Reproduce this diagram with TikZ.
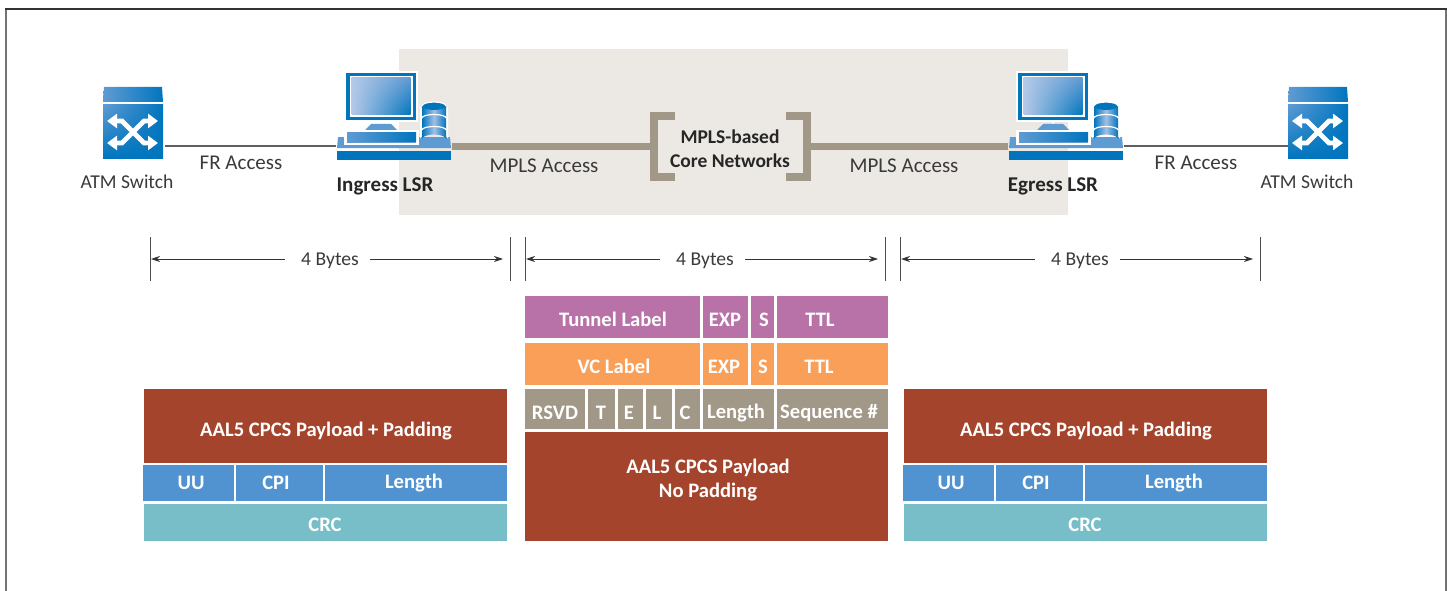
\documentclass[tikz,border=0pt]{standalone}
\usepackage{fontspec}
\setmainfont{Carlito}
\usetikzlibrary{arrows.meta,shadings}
\definecolor{corefill}{HTML}{ECE9E4}
\definecolor{mplsline}{HTML}{A29888}
\definecolor{frline}{HTML}{5F5F5F}
\definecolor{inktext}{HTML}{3A3A3A}
\definecolor{iconblue}{HTML}{0075BE}
\definecolor{iconlight}{HTML}{B4C9E8}
\definecolor{iconmid}{HTML}{5F9BD3}
\definecolor{fpurple}{HTML}{B872A8}
\definecolor{forange}{HTML}{F99F58}
\definecolor{fgray}{HTML}{A29888}
\definecolor{fbrown}{HTML}{A4442C}
\definecolor{fblue}{HTML}{5193D0}
\definecolor{fteal}{HTML}{78BEC8}
\tikzset{
  lbl/.style={font=\fontsize{21}{24}\selectfont,text=inktext,inner sep=0pt,align=center,yshift=-0.8pt},
  atmlbl/.style={font=\fontsize{19.6}{24}\selectfont,text=inktext,inner sep=0pt,align=center,yshift=-0.3pt},
  lblb/.style={font=\fontsize{21}{24}\selectfont\bfseries,text=black!85,inner sep=0pt,align=center,yshift=-0.8pt},
  corelbl/.style={font=\fontsize{19.5}{24}\selectfont\bfseries,text=black!85,inner sep=0pt,align=center},
  fldtext/.style={font=\fontsize{20.6}{24}\selectfont\bfseries,text=white,inner sep=0pt,align=center,yshift=-0.8pt},
  iconbox/.style={inner sep=0pt,minimum width=#1,minimum height=10pt},
  fraccess/.style={draw=frline,line width=1.6pt},
  mplsaccess/.style={draw=mplsline,line width=7pt},
  bracket/.style={draw=mplsline,line width=8pt,miter limit=10},
  dimarrow/.style={draw=black!80,line width=0.9pt,-{Stealth[length=9pt,width=6pt]}},
  dimtick/.style={draw=black!70,line width=0.9pt},
  whitearrow/.style={draw=white,line width=4.8pt,{Triangle[length=10pt,width=14pt]}-{Triangle[length=10pt,width=14pt]}}
}
% field: fill colour, x0, y0, x1, y1
\newcommand{\fieldrect}[5]{\fill[#1] (#2,#3) rectangle (#4,#5);}
\newcommand{\swicon}[1]{%
  \begin{scope}[shift={(#1,0)}]
    \shade[upper left=iconmid,upper right=iconblue,lower left=iconmid,lower right=iconblue] (104,87) -- (162,87) -- (163,102) -- (103,102) -- cycle;
    \shade[upper left=iconmid,upper right=iconblue,lower left=iconblue,lower right=iconblue] (103,105) rectangle (163,158);
    \draw[whitearrow] (107,121) -- (122,121) -- (144,143) -- (158,143);
    \draw[whitearrow] (107,143) -- (122,143) -- (144,121) -- (158,121);
  \end{scope}}
\newcommand{\pcicon}[1]{%
  \begin{scope}[shift={(#1,0)}]
    % base
    \fill[iconmid] (338,137) -- (450,137) -- (451,148) -- (337,148) -- cycle;
    \fill[iconblue] (337,151) rectangle (451,160);
    % monitor
    \fill[white] (344,71) rectangle (418,122);
    \fill[iconblue] (346,73) rectangle (416,120);
    \fill[white] (349.5,76) rectangle (412.5,117);
    \shade[upper left=iconlight,upper right=iconmid,lower left=iconlight,lower right=iconblue] (351.5,78) rectangle (410.5,115);
    % stand
    \fill[white] (380,120) rectangle (382,124);
    \fill[iconmid] (371,124) -- (391,124) -- (397,130) -- (365,130) -- cycle;
    % keyboard
    \fill[white] (344,130) rectangle (419,145);
    \shade[left color=iconmid,right color=iconblue] (347,132) rectangle (416,141);
    \fill[iconmid] (347,142) rectangle (416,143);
    % cylinder
    \fill[white] (420,106) arc[start angle=180,end angle=0,x radius=14,y radius=6] -- (448,139) arc[start angle=0,end angle=-180,x radius=14,y radius=6] -- cycle;
    \shade[left color=iconblue,right color=iconblue,middle color=iconlight!80!iconmid] (422,106) -- (446,106) -- (446,139) arc[start angle=0,end angle=-180,x radius=12,y radius=4.5] -- cycle;
    \fill[iconblue] (434,106) ellipse[x radius=12,y radius=4];
    \draw[white,line width=1.2pt] (422,118) arc[start angle=180,end angle=360,x radius=12,y radius=3.5];
    \draw[white,line width=1.2pt] (422,130) arc[start angle=180,end angle=360,x radius=12,y radius=3.5];
    \draw[white,line width=1.2pt] (422,106) arc[start angle=180,end angle=360,x radius=12,y radius=4];
  \end{scope}}
\begin{document}
\begin{tikzpicture}[x=1pt,y=-1pt]
\useasboundingbox (0,0) rectangle (1447,591);
% outer frame
\draw[draw=black!55,line width=1.3pt] (6,591) -- (6,9);
\draw[draw=black!55,line width=1.3pt] (1446,9) -- (1446,591);
\draw[draw=black!80,line width=1.3pt] (5.4,9) -- (1446.6,9);
% core network region
\fill[corefill] (399,49) rectangle (1068,215);

\coordinate (liney) at (0,146);
% icon anchors
\node[iconbox=62pt] (swL) at (134,122) {};
\node[iconbox=116pt] (pcL) at (394,122) {};
\node[iconbox=116pt] (pcR) at (1066,122) {};
\node[iconbox=62pt] (swR) at (1319,122) {};
% core brackets
\node[corelbl] (core) at (730,149) {MPLS-based\\Core Networks};
\coordinate (brL) at (654,146);
\coordinate (brR) at (807,146);
% connectors
\draw[fraccess] (swL.east |- liney) -- (pcL.west |- liney);
\draw[fraccess] (pcR.east |- liney) -- (swR.west |- liney);
\draw[mplsaccess] (pcL.east |- liney) -- (brL);
\draw[mplsaccess] (brR) -- (pcR.west |- liney);
\draw[bracket] (675,116) -- (654,116) -- (654,177) -- (675,177);
\draw[bracket] (786,116) -- (807,116) -- (807,177) -- (786,177);
% icons
\swicon{0}
\swicon{1185}
\pcicon{0}
\pcicon{672}
% network labels
\node[atmlbl] (atmL) at (127,181) {ATM Switch};
\node[lbl] (frL) at (241,162) {FR Access};
\node[lblb] (ingress) at (385,186) {Ingress LSR};
\node[lbl] (mplsL) at (544,165) {MPLS Access};
\node[lbl] (mplsR) at (904,165) {MPLS Access};
\node[lblb] (egress) at (1053,186) {Egress LSR};
\node[lbl] (frR) at (1196,162) {FR Access};
\node[atmlbl] (atmR) at (1307,181) {ATM Switch};
% dimension lines
\foreach \n/\xa/\xb/\xc in {a/150/330/510,b/525/705/885,c/900/1080/1260}{
  \coordinate (\n l) at (\xa,259);
  \coordinate (\n r) at (\xc,259);
  \coordinate (\n lt) at (\xa,237);
  \coordinate (\n lb) at (\xa,281);
  \coordinate (\n rt) at (\xc,237);
  \coordinate (\n rb) at (\xc,281);
  \node[atmlbl,minimum width=85pt] (\n t) at (\xb,260) {4 Bytes};
  \draw[dimtick] (\n lt) -- (\n lb);
  \draw[dimtick] (\n rt) -- (\n rb);
  \draw[dimarrow] (\n t.west |- \n l) ++(-2.5,0) -- ([xshift=1pt]\n l);
  \draw[dimarrow] (\n t.east |- \n r) ++(-2.5,0) -- ([xshift=-7pt]\n r);
}
% centre stack
\fieldrect{fpurple}{525}{296}{700}{338}
\fieldrect{fpurple}{703}{296}{748}{338}
\fieldrect{fpurple}{751}{296}{774}{338}
\fieldrect{fpurple}{777}{296}{888}{338}
\node[fldtext] (tl) at (613,319) {Tunnel Label};
\node[fldtext] (te) at (725,319) {EXP};
\node[fldtext] (ts) at (764,319) {S};
\node[fldtext] (tt) at (820,319) {TTL};
\fieldrect{forange}{525}{343}{700}{385}
\fieldrect{forange}{703}{343}{748}{385}
\fieldrect{forange}{751}{343}{774}{385}
\fieldrect{forange}{777}{343}{888}{385}
\node[fldtext] (vl) at (614,366) {VC Label};
\node[fldtext] (ve) at (724,366) {EXP};
\node[fldtext] (vs) at (763,366) {S};
\node[fldtext] (vt) at (819,366) {TTL};
\fieldrect{fgray}{525}{389}{585}{429}
\fieldrect{fgray}{588}{389}{615}{429}
\fieldrect{fgray}{618}{389}{642.5}{429}
\fieldrect{fgray}{645.5}{389}{672}{429}
\fieldrect{fgray}{675}{389}{700}{429}
\fieldrect{fgray}{703}{389}{774}{429}
\fieldrect{fgray}{777}{389}{888}{429}
\node[fldtext] (rs) at (555,412) {RSVD};
\node[fldtext] (ft) at (601,412) {T};
\node[fldtext] (fe) at (629,412) {E};
\node[fldtext] (fl) at (657,412) {L};
\node[fldtext] (fc) at (685,412) {C};
\node[fldtext] (fn) at (736,412) {Length};
\node[fldtext] (fq) at (829,412) {Sequence \#};
\fieldrect{fbrown}{525}{432}{888}{541}
\node[fldtext] (pl) at (708,479) {AAL5 CPCS Payload\\No Padding};
% left stack
\fieldrect{fbrown}{144}{389}{507}{463}
\node[fldtext] (lp) at (326,430) {AAL5 CPCS Payload + Padding};
\fieldrect{fblue}{143}{465}{234}{501}
\fieldrect{fblue}{236}{465}{323}{501}
\fieldrect{fblue}{325}{465}{507}{501}
\node[fldtext] (luu) at (191,482) {UU};
\node[fldtext] (lcp) at (276,482) {CPI};
\node[fldtext] (lln) at (414,482) {Length};
\fieldrect{fteal}{144}{504}{507}{541}
\node[fldtext] (lcr) at (325,524) {CRC};
% right stack
\fieldrect{fbrown}{904}{389}{1267}{463}
\node[fldtext] (rp) at (1086,430) {AAL5 CPCS Payload + Padding};
\fieldrect{fblue}{903}{465}{994}{501}
\fieldrect{fblue}{996}{465}{1083}{501}
\fieldrect{fblue}{1085}{465}{1267}{501}
\node[fldtext] (ruu) at (951,482) {UU};
\node[fldtext] (rcp) at (1036,482) {CPI};
\node[fldtext] (rln) at (1174,482) {Length};
\fieldrect{fteal}{904}{504}{1267}{541}
\node[fldtext] (rcr) at (1085,524) {CRC};
\end{tikzpicture}
\end{document}
